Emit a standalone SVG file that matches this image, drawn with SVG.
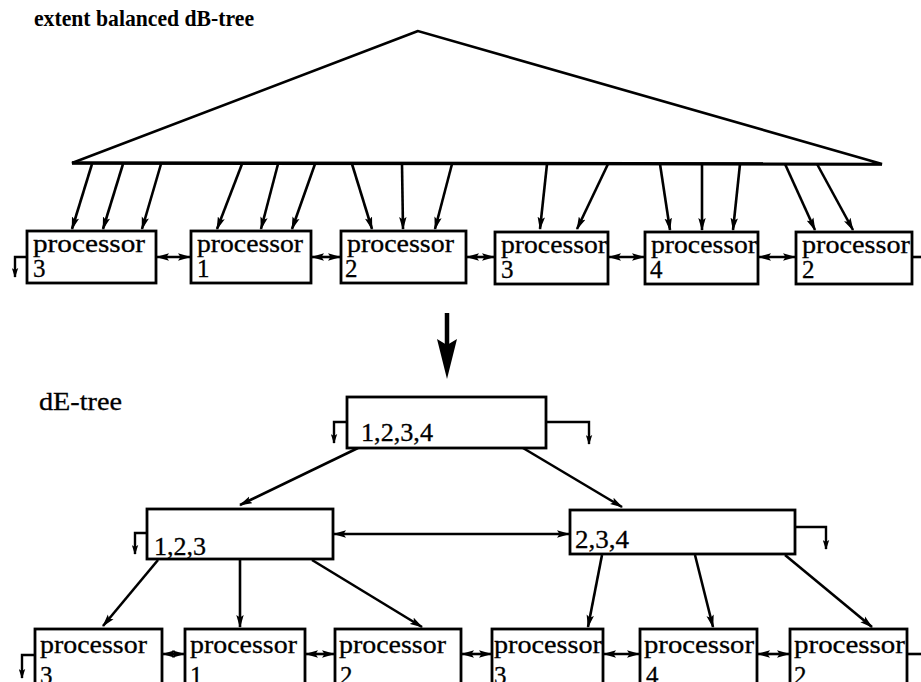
<svg xmlns="http://www.w3.org/2000/svg" width="921" height="682" viewBox="0 0 921 682">
<style>
  .box{fill:#fff;stroke:#000;stroke-width:2.8}
  .ln{fill:none;stroke:#000;stroke-width:2.6}
  .arr{fill:none;stroke:#000;stroke-width:2.6;marker-end:url(#ah)}
  .dbl{fill:none;stroke:#000;stroke-width:2.6;marker-start:url(#ah);marker-end:url(#ah)}
  .hook{fill:none;stroke:#000;stroke-width:2.4;marker-end:url(#sh)}
  .t{font-family:"Liberation Serif","Times New Roman",serif;font-size:25px;fill:#000;stroke:#000;stroke-width:0.3}
  .title{font-family:"Liberation Serif","Times New Roman",serif;font-size:24px;font-weight:bold;fill:#000}
</style>
<defs>
  <marker id="ah" viewBox="0 0 13 8" refX="12" refY="4" markerWidth="13" markerHeight="8" markerUnits="userSpaceOnUse" orient="auto-start-reverse">
    <path d="M0,0.3 L13,4 L0,7.7 L2.5,4 Z" fill="#000"/>
  </marker>
  <marker id="sh" viewBox="0 0 10 7" refX="9" refY="3.5" markerWidth="10" markerHeight="7" markerUnits="userSpaceOnUse" orient="auto">
    <path d="M0,0.3 L10,3.5 L0,6.7 L2,3.5 Z" fill="#000"/>
  </marker>
</defs>

<text class="title" x="34" y="26" textLength="220" lengthAdjust="spacingAndGlyphs">extent balanced dB-tree</text>
<text class="t" x="39" y="410" textLength="83" lengthAdjust="spacingAndGlyphs">dE-tree</text>

<g id="dbtree">
  <polygon points="418,31 72,163 882,164" fill="none" stroke="#000" stroke-width="2.6" stroke-linejoin="miter"/>
  <line x1="72" y1="163" x2="882" y2="164" stroke="#000" stroke-width="3.4"/>
</g>

<g id="connectors">
  <line class="arr" x1="92" y1="164" x2="72" y2="229"/>
  <line class="arr" x1="123" y1="164" x2="103" y2="229"/>
  <line class="arr" x1="161" y1="164" x2="142" y2="229"/>
  <line class="arr" x1="242" y1="164" x2="217" y2="229"/>
  <line class="arr" x1="278" y1="164" x2="261" y2="229"/>
  <line class="arr" x1="315" y1="164" x2="292" y2="229"/>
  <line class="arr" x1="352" y1="164" x2="372" y2="229"/>
  <line class="arr" x1="402" y1="164" x2="403" y2="229"/>
  <line class="arr" x1="452" y1="164" x2="435" y2="229"/>
  <line class="arr" x1="547" y1="164" x2="540" y2="229"/>
  <line class="arr" x1="608" y1="164" x2="577" y2="229"/>
  <line class="arr" x1="660" y1="164" x2="670" y2="230"/>
  <line class="arr" x1="702" y1="164" x2="702" y2="230"/>
  <line class="arr" x1="740" y1="164" x2="733" y2="230"/>
  <line class="arr" x1="785" y1="164" x2="815" y2="230"/>
  <line class="arr" x1="817" y1="164" x2="853" y2="230"/>
  <line class="dbl" x1="157" y1="257" x2="190" y2="257"/>
  <line class="dbl" x1="312" y1="257" x2="340" y2="257"/>
  <line class="dbl" x1="467" y1="257" x2="494" y2="257"/>
  <line class="dbl" x1="609" y1="257" x2="644" y2="257"/>
  <line class="dbl" x1="759" y1="257" x2="795" y2="257"/>
  <path class="hook" d="M27,257 H15 V277"/>
  <path class="ln" d="M912,257 H921"/>
  <line x1="447" y1="313" x2="447" y2="346" stroke="#000" stroke-width="4.5"/>
  <polygon points="437,339 447,345 457,339 447,379" fill="#000"/>
  <path class="hook" d="M347,422 H334 V443"/>
  <path class="hook" d="M546,422 H589 V444"/>
  <line class="arr" x1="358" y1="448" x2="240" y2="505"/>
  <line class="arr" x1="523" y1="448" x2="622" y2="507"/>
  <path class="hook" d="M147,533 H135 V554"/>
  <path class="hook" d="M795,527 H826 V549"/>
  <line class="dbl" x1="334" y1="534" x2="569" y2="534"/>
  <line class="arr" x1="158" y1="560" x2="103" y2="626"/>
  <line class="arr" x1="240" y1="560" x2="240" y2="627"/>
  <line class="arr" x1="312" y1="560" x2="422" y2="627"/>
  <line class="arr" x1="602" y1="555" x2="588" y2="627"/>
  <line class="arr" x1="695" y1="555" x2="713" y2="627"/>
  <line class="arr" x1="785" y1="555" x2="872" y2="627"/>
  <line class="dbl" x1="163" y1="654" x2="184" y2="654"/>
  <line class="dbl" x1="306" y1="654" x2="334" y2="654"/>
  <line class="dbl" x1="462" y1="654" x2="491" y2="654"/>
  <line class="dbl" x1="604" y1="654" x2="639" y2="654"/>
  <line class="dbl" x1="758" y1="654" x2="789" y2="654"/>
  <path class="hook" d="M35,655 H22 V678"/>
  <path class="ln" d="M907,654 H921"/>
</g>

<g id="leaf-top-1"><rect class="box" x="27" y="231" width="129" height="52"/>
  <text class="t" x="33" y="252" textLength="112" lengthAdjust="spacingAndGlyphs">processor</text>
  <text class="t" x="33" y="277">3</text></g>
<g id="leaf-top-2"><rect class="box" x="191" y="231" width="120" height="52"/>
  <text class="t" x="197" y="252" textLength="106" lengthAdjust="spacingAndGlyphs">processor</text>
  <text class="t" x="197" y="277">1</text></g>
<g id="leaf-top-3"><rect class="box" x="341" y="231" width="125" height="52"/>
  <text class="t" x="347" y="252" textLength="107" lengthAdjust="spacingAndGlyphs">processor</text>
  <text class="t" x="345" y="277">2</text></g>
<g id="leaf-top-4"><rect class="box" x="495" y="232" width="113" height="52"/>
  <text class="t" x="501" y="253" textLength="106" lengthAdjust="spacingAndGlyphs">processor</text>
  <text class="t" x="501" y="278">3</text></g>
<g id="leaf-top-5"><rect class="box" x="645" y="232" width="113" height="52"/>
  <text class="t" x="651" y="253" textLength="106" lengthAdjust="spacingAndGlyphs">processor</text>
  <text class="t" x="650" y="278">4</text></g>
<g id="leaf-top-6"><rect class="box" x="796" y="232" width="116" height="52"/>
  <text class="t" x="802" y="253" textLength="108" lengthAdjust="spacingAndGlyphs">processor</text>
  <text class="t" x="802" y="278">2</text></g>

<g id="de-root"><rect class="box" x="347" y="397" width="199" height="51"/>
  <text class="t" x="361" y="441" textLength="72" lengthAdjust="spacingAndGlyphs">1,2,3,4</text></g>
<g id="de-left"><rect class="box" x="147" y="509" width="186" height="50"/>
  <text class="t" x="154" y="555" textLength="52" lengthAdjust="spacingAndGlyphs">1,2,3</text></g>
<g id="de-right"><rect class="box" x="570" y="510" width="225" height="44"/>
  <text class="t" x="575" y="548" textLength="54" lengthAdjust="spacingAndGlyphs">2,3,4</text></g>

<g id="leaf-bot-1"><rect class="box" x="35" y="629" width="127" height="62"/>
  <text class="t" x="40" y="653" textLength="107" lengthAdjust="spacingAndGlyphs">processor</text>
  <text class="t" x="40" y="684">3</text></g>
<g id="leaf-bot-2"><rect class="box" x="185" y="629" width="120" height="62"/>
  <text class="t" x="190" y="653" textLength="107" lengthAdjust="spacingAndGlyphs">processor</text>
  <text class="t" x="190" y="684">1</text></g>
<g id="leaf-bot-3"><rect class="box" x="335" y="629" width="126" height="62"/>
  <text class="t" x="339" y="653" textLength="107" lengthAdjust="spacingAndGlyphs">processor</text>
  <text class="t" x="340" y="684">2</text></g>
<g id="leaf-bot-4"><rect class="box" x="492" y="629" width="111" height="62"/>
  <text class="t" x="494" y="653" textLength="108" lengthAdjust="spacingAndGlyphs">processor</text>
  <text class="t" x="494" y="684">3</text></g>
<g id="leaf-bot-5"><rect class="box" x="640" y="629" width="117" height="62"/>
  <text class="t" x="644" y="653" textLength="110" lengthAdjust="spacingAndGlyphs">processor</text>
  <text class="t" x="646" y="684">4</text></g>
<g id="leaf-bot-6"><rect class="box" x="790" y="629" width="117" height="62"/>
  <text class="t" x="794" y="653" textLength="111" lengthAdjust="spacingAndGlyphs">processor</text>
  <text class="t" x="794" y="684">2</text></g>
</svg>
